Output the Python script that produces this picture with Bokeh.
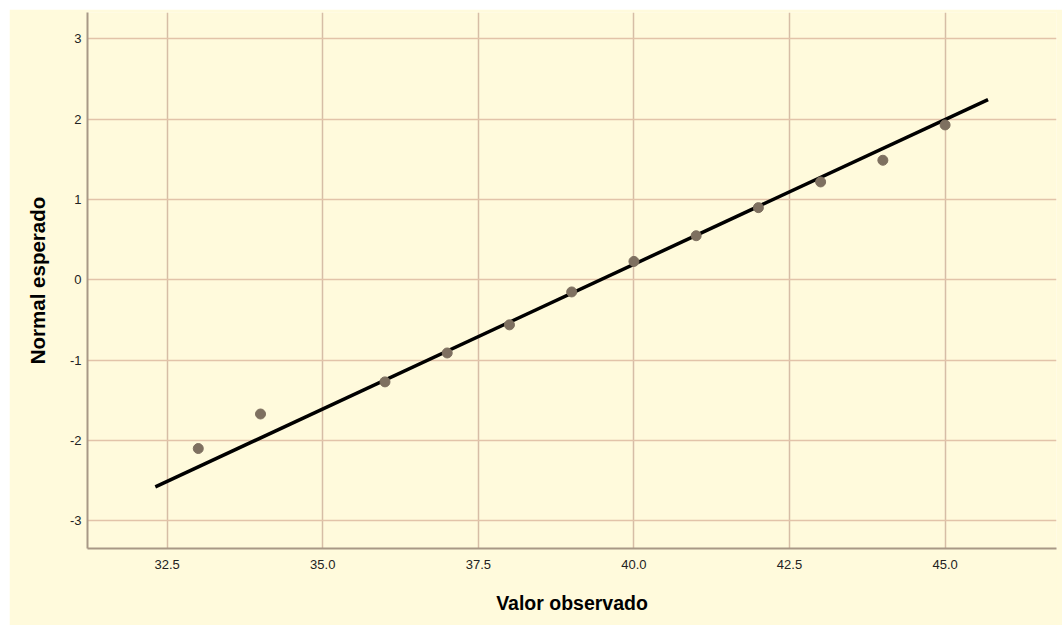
from bokeh.plotting import figure
from bokeh.models import Range1d, FixedTicker, ColumnDataSource
from bokeh.embed import file_html
from bokeh.resources import INLINE

observed = [33, 34, 36, 37, 38, 39, 40, 41, 42, 43, 44, 45]
expected = [-2.10, -1.67, -1.27, -0.91, -0.56, -0.15, 0.23, 0.55, 0.90, 1.22, 1.49, 1.93]

# Reference line: expected = (x - mean) / sd
line_mean = 39.46
line_sd = 2.774
line_x = [32.31, 45.69]
line_y = [(v - line_mean) / line_sd for v in line_x]

x_ticks = [32.5, 35.0, 37.5, 40.0, 42.5, 45.0]
y_ticks = [-3, -2, -1, 0, 1, 2, 3]

BG = "#FFFADC"
AXIS = "#A89886"

p = figure(width=1053, height=616, output_backend="svg", toolbar_location=None,
           x_range=Range1d(31.22, 46.79), y_range=Range1d(-3.345, 3.33),
           min_border_left=78, min_border_right=6, min_border_top=3, min_border_bottom=77)
p.margin = (9, 0, 0, 9)

p.background_fill_color = BG
p.border_fill_color = BG
p.outline_line_color = None

p.xgrid.ticker = FixedTicker(ticks=x_ticks)
p.ygrid.ticker = FixedTicker(ticks=y_ticks)
p.xgrid.grid_line_color = "#D6BDA6"
p.ygrid.grid_line_color = "#E2C3A9"
p.xgrid.grid_line_width = 1.5
p.ygrid.grid_line_width = 1.5

for ax in (p.xaxis[0], p.yaxis[0]):
    ax.axis_line_color = AXIS
    ax.axis_line_width = 2
    ax.major_tick_line_color = None
    ax.minor_tick_line_color = None
    ax.major_label_text_font = "Liberation Sans"
    ax.major_label_text_font_size = "13px"
    ax.major_label_text_color = "#222222"
    ax.axis_label_text_font = "Liberation Sans"
    ax.axis_label_text_font_style = "bold"
    ax.axis_label_text_color = "#000000"

p.xaxis.axis_label_text_font_size = "19.5px"
p.yaxis.axis_label_text_font_size = "20.5px"
p.xaxis.ticker = FixedTicker(ticks=x_ticks)
p.yaxis.ticker = FixedTicker(ticks=y_ticks)
p.xaxis.major_label_overrides = {t: f"{t:.1f}" for t in x_ticks}
p.yaxis.major_label_overrides = {t: str(t) for t in y_ticks}
p.xaxis.major_label_standoff = 5
p.yaxis.major_label_standoff = 0
p.xaxis.axis_label = "Valor observado"
p.yaxis.axis_label = "Normal esperado"
p.xaxis.axis_label_standoff = 20
p.yaxis.axis_label_standoff = 18

p.line(line_x, line_y, line_color="black", line_width=3.5)

src = ColumnDataSource(data=dict(x=observed, y=expected))
p.scatter("x", "y", source=src, size=10, fill_color="#7E7060", line_color="#7E7060")

open("out.html", "w").write(file_html(p, INLINE))
